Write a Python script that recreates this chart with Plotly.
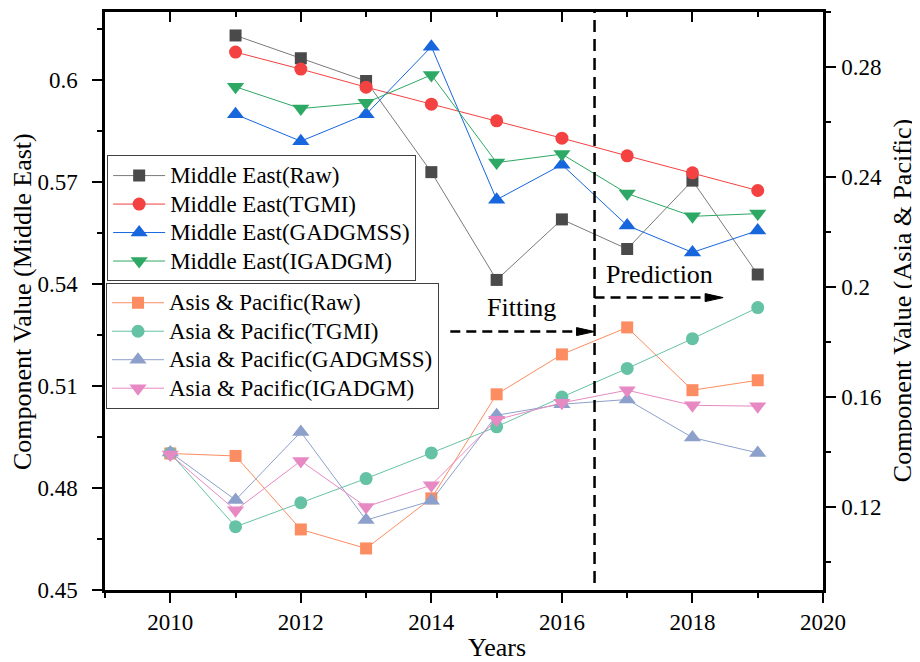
import plotly.graph_objects as go

years_me = [2011, 2012, 2013, 2014, 2015, 2016, 2017, 2018, 2019]
years_ap = [2010, 2011, 2012, 2013, 2014, 2015, 2016, 2017, 2018, 2019]

me_raw = [0.6131, 0.6064, 0.5997, 0.5729, 0.5412, 0.5590, 0.5503, 0.5704, 0.5428]
me_tgmi = [0.6082, 0.6032, 0.5979, 0.5929, 0.5880, 0.5829, 0.5777, 0.5727, 0.5675]
me_gadgmss = [0.5899, 0.5820, 0.5899, 0.6098, 0.5648, 0.5751, 0.5572, 0.5493, 0.5557]
me_igadgm = [0.5980, 0.5916, 0.5933, 0.6015, 0.5757, 0.5782, 0.5666, 0.5599, 0.5607]

ap_raw = [0.1396, 0.1387, 0.1120, 0.1051, 0.1233, 0.1611, 0.1756, 0.1854, 0.1626, 0.1662]
ap_tgmi = [0.1397, 0.1130, 0.1217, 0.1305, 0.1398, 0.1493, 0.1601, 0.1705, 0.1813, 0.1926]
ap_gadgmss = [0.1400, 0.1227, 0.1474, 0.1154, 0.1224, 0.1535, 0.1575, 0.1592, 0.1454, 0.1398]
ap_igadgm = [0.1392, 0.1190, 0.1369, 0.1202, 0.1281, 0.1519, 0.1580, 0.1626, 0.1571, 0.1568]

left_ticks = [0.45, 0.48, 0.51, 0.54, 0.57, 0.6]
left_labels = ["0.45", "0.48", "0.51", "0.54", "0.57", "0.6"]
right_ticks = [0.12, 0.16, 0.2, 0.24, 0.28]
right_labels = ["0.12", "0.16", "0.2", "0.24", "0.28"]

split_year = 2016.5
fit_arrow = dict(x0=2014.29, x1=2016.5, y=0.526)
pred_arrow = dict(x0=2016.5, x1=2018.47, y=0.536)

FONT = "Liberation Serif, Times New Roman, serif"

def big(s):
    return '<span style="font-size:23px">' + s + '</span>'

fig = go.Figure()

me_series = [
    ("Middle East(Raw)", me_raw, "#4a4a4a", "#7a7a7a", "square", 12),
    ("Middle East(TGMI)", me_tgmi, "#f44141", "#f44141", "circle", 13),
    ("Middle East(GADGMSS)", me_gadgmss, "#1766de", "#1766de", "triangle-up", 15),
    ("Middle East(IGADGM)", me_igadgm, "#2ea865", "#2ea865", "triangle-down", 15),
]
ap_series = [
    ("Asis & Pacific(Raw)", ap_raw, "#fc8d62", "#fc8d62", "square", 12),
    ("Asia & Pacific(TGMI)", ap_tgmi, "#66c2a5", "#66c2a5", "circle", 13),
    ("Asia & Pacific(GADGMSS)", ap_gadgmss, "#8da0cb", "#8da0cb", "triangle-up", 15),
    ("Asia & Pacific(IGADGM)", ap_igadgm, "#e78ac3", "#e78ac3", "triangle-down", 15),
]

for name, vals, mc, lc, sym, sz in me_series:
    fig.add_trace(go.Scatter(
        x=years_me, y=vals, name=big(name), mode="lines+markers",
        line=dict(color=lc, width=1),
        marker=dict(color=mc, symbol=sym, size=sz, line=dict(width=0)),
        xaxis="x", yaxis="y", legend="legend",
    ))

for name, vals, mc, lc, sym, sz in ap_series:
    fig.add_trace(go.Scatter(
        x=years_ap, y=vals, name=big(name), mode="lines+markers",
        line=dict(color=lc, width=1),
        marker=dict(color=mc, symbol=sym, size=sz, line=dict(width=0)),
        xaxis="x", yaxis="y2", legend="legend2",
    ))

# dummy trace to ensure top axis is drawn
fig.add_trace(go.Scatter(x=[None], y=[None], xaxis="x2", yaxis="y",
                         showlegend=False, hoverinfo="skip"))

axis_common = dict(showline=True, linecolor="black", linewidth=2.5,
                   showgrid=False, zeroline=False, tickcolor="black",
                   tickwidth=2, ticklen=10,
                   tickfont=dict(family=FONT, size=23, color="black"))

# page body has an 8px margin, so the figure is drawn 8px smaller and shifted
fig.update_layout(
    width=912, height=654,
    margin=dict(l=97, r=97, t=4, b=72),
    paper_bgcolor="white", plot_bgcolor="white",
    font=dict(family=FONT, size=23, color="black"),
    xaxis=dict(range=[2009, 2020], ticks="outside", tick0=2010, dtick=2,
               minor=dict(ticks="outside", ticklen=5, tickwidth=2, tick0=2009, dtick=1, tickcolor="black"),
               anchor="y", side="bottom", **axis_common),
    xaxis2=dict(range=[2009, 2020], ticks="inside", tick0=2010, dtick=2,
                minor=dict(ticks="inside", ticklen=5, tickwidth=2, tick0=2009, dtick=1, tickcolor="black"),
                overlaying="x", anchor="y", side="top", showticklabels=False, **axis_common),
    yaxis=dict(range=[0.45, 0.62], ticks="outside", tickmode="array",
               tickvals=left_ticks, ticktext=left_labels, ticklabelstandoff=10,
               minor=dict(ticks="outside", ticklen=5, tickwidth=2, tick0=0.45, dtick=0.015, tickcolor="black"),
               anchor="x", side="left", **axis_common),
    yaxis2=dict(range=[0.09, 0.30], ticks="outside", tickmode="array",
                tickvals=right_ticks, ticktext=right_labels, ticklabelstandoff=1,
                minor=dict(ticks="outside", ticklen=5, tickwidth=2, tick0=0.10, dtick=0.02, tickcolor="black"),
                overlaying="y", anchor="x", side="right", **axis_common),
    legend=dict(x=0.003, y=0.752, xanchor="left", yanchor="top",
                bgcolor="white", bordercolor="#404040", borderwidth=1,
                font=dict(family=FONT, size=19.6, color="black"),
                itemwidth=52, tracegroupgap=0),
    legend2=dict(x=0.0014, y=0.532, xanchor="left", yanchor="top",
                 bgcolor="white", bordercolor="#404040", borderwidth=1,
                 font=dict(family=FONT, size=19.6, color="black"),
                 itemwidth=52, tracegroupgap=0),
    showlegend=True,
)

# vertical split line
fig.add_shape(type="line", xref="x", yref="paper", x0=split_year, x1=split_year,
              y0=0.012, y1=1, line=dict(color="black", width=2.5, dash="12px,7px"))

# fitting arrow
fig.add_shape(type="line", xref="x", yref="y", x0=fit_arrow["x0"], x1=fit_arrow["x1"] - 0.2,
              y0=fit_arrow["y"], y1=fit_arrow["y"], line=dict(color="black", width=2.5, dash="10px,6px"))
fig.add_shape(type="path", xref="x", yref="y", xsizemode="pixel", ysizemode="pixel",
              xanchor=fit_arrow["x1"], yanchor=fit_arrow["y"],
              path="M-18,-4 L0,0 L-18,4 Z", fillcolor="black", line=dict(color="black", width=1))
# prediction arrow
fig.add_shape(type="line", xref="x", yref="y", x0=pred_arrow["x0"], x1=pred_arrow["x1"] - 0.2,
              y0=pred_arrow["y"], y1=pred_arrow["y"], line=dict(color="black", width=2.5, dash="10px,6px"))
fig.add_shape(type="path", xref="x", yref="y", xsizemode="pixel", ysizemode="pixel",
              xanchor=pred_arrow["x1"], yanchor=pred_arrow["y"],
              path="M-18,-4 L0,0 L-18,4 Z", fillcolor="black", line=dict(color="black", width=1))

fig.add_annotation(text="Fitting", x=2015.386, y=0.5331, xref="x", yref="y",
                   showarrow=False, font=dict(family=FONT, size=26, color="black"))
fig.add_annotation(text="Prediction", x=2017.50, y=0.5428, xref="x", yref="y",
                   showarrow=False, font=dict(family=FONT, size=26, color="black"))

# axis titles
fig.add_annotation(text="Years", x=0.5458, y=-0.1003, xref="paper", yref="paper",
                   showarrow=False, xanchor="center", yanchor="middle",
                   font=dict(family=FONT, size=26, color="black"))
fig.add_annotation(text="Component Value (Middle East)", x=-0.1156, y=0.5, xref="paper", yref="paper",
                   showarrow=False, textangle=-90, xanchor="center", yanchor="middle",
                   font=dict(family=FONT, size=26, color="black"))
fig.add_annotation(text="Component Value (Asia & Pacific)", x=1.1103, y=0.5, xref="paper", yref="paper",
                   showarrow=False, textangle=-90, xanchor="center", yanchor="middle",
                   font=dict(family=FONT, size=26, color="black"))

fig.write_html("out.html")
